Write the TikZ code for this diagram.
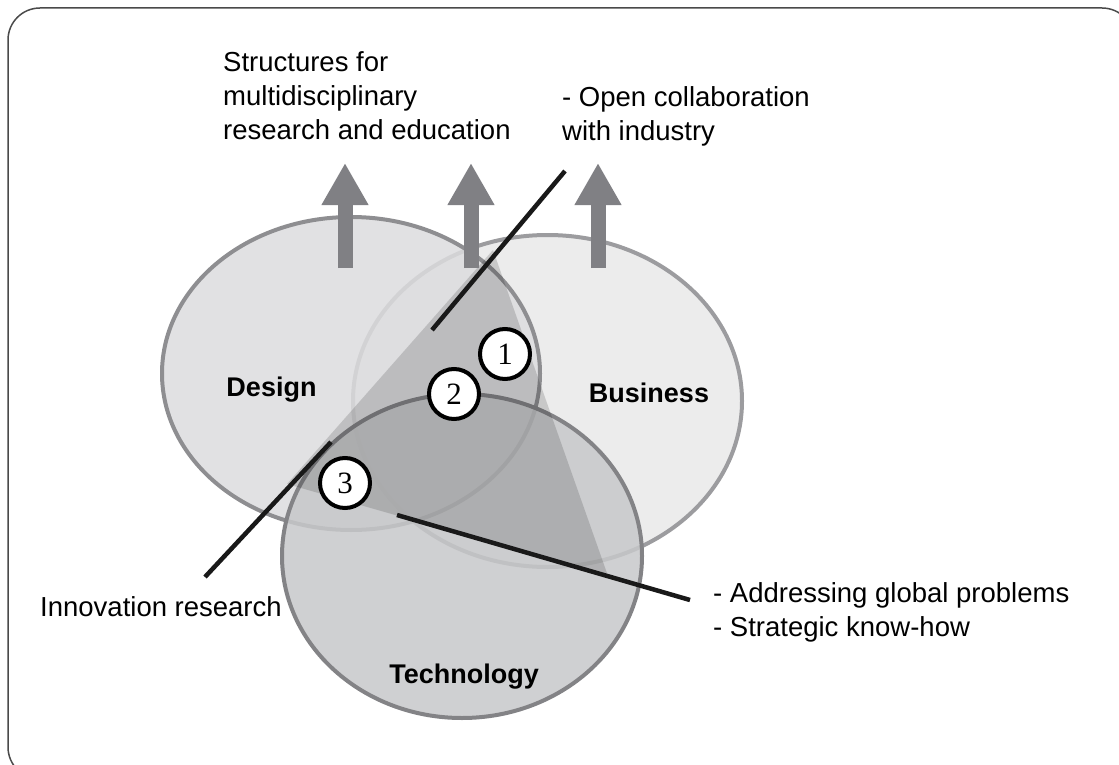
\documentclass[tikz,border=0pt]{standalone}
\usepackage{fontspec}
\setmainfont{Liberation Sans}
\newfontfamily\numfont{Liberation Serif}
\usetikzlibrary{shapes.geometric}
\usetikzlibrary{arrows.meta}

\definecolor{framegray}{HTML}{4A4A4A}
\definecolor{dsgfill}{HTML}{DCDCDE}
\definecolor{dsgline}{HTML}{8E8E91}
\definecolor{busfill}{HTML}{ECECEC}
\definecolor{busline}{HTML}{9C9C9F}
\definecolor{tecfill}{HTML}{C7C8CA}
\definecolor{tecline}{HTML}{838386}
\definecolor{arrowgray}{HTML}{808084}

\begin{document}
\begin{tikzpicture}[x=1pt, y=-1pt,
    set/.style={ellipse, inner sep=0pt, line width=4pt},
    num/.style={circle, draw=black, fill=white, line width=4pt, minimum size=50pt,
      inner sep=0pt, font=\numfont\fontsize{31}{31}\selectfont},
    txt/.style={inner sep=0pt, anchor=base west, align=left,
      font=\fontsize{27.5}{34}\selectfont},
    setname/.style={inner sep=0pt, anchor=base, font=\bfseries\fontsize{27}{30}\selectfont},
    up/.style={line width=15pt, draw=arrowgray, -{Triangle[length=42pt,width=44pt]}},
    pointer/.style={line width=4.5pt, draw=black!90}]
  \useasboundingbox (0,0) rectangle (1119,765);
  \draw[line width=1.5pt, draw=framegray, rounded corners=32pt] (8,8) rectangle (1134,779);

  % the three fields
  \node[set, draw=busline, fill=busfill, minimum width=389pt, minimum height=332pt] (business) at (547.5,401) {};
  \node[set, draw=dsgline, fill=dsgfill, fill opacity=0.85, minimum width=378pt, minimum height=313pt] (design) at (351,373.5) {};
  \node[set, draw=tecline, fill=tecfill, fill opacity=0.85, minimum width=360pt, minimum height=324pt] (technology) at (462,556) {};

  \node[setname] (designname) at (271.5,396) {Design};
  \node[setname] (businessname) at (649,402) {Business};
  \node[setname] (technologyname) at (464,683) {Technology};

  % shaded core
  \coordinate (apex) at (493,250);
  \coordinate (left) at (287,484);
  \coordinate (right) at (608,576);
  \fill[black, fill opacity=0.15] (apex) -- (left) -- (right) -- cycle;

  % arrows up
  \foreach \x [count=\i] in {345,471,598} {
    \coordinate (foot\i) at (\x,268);
    \coordinate (tip\i) at (\x,163);
    \draw[up] (foot\i) -- (tip\i);
  }

  % pointer lines
  \coordinate (collabtop) at (565,171);
  \coordinate (collabend) at (432,330);
  \coordinate (innovtop) at (331,442);
  \coordinate (innovend) at (205,577);
  \coordinate (globalstart) at (397,515);
  \coordinate (globalend) at (690,600);
  \draw[pointer] (collabtop) -- (collabend);
  \draw[pointer] (innovtop) -- (innovend);
  \draw[pointer] (globalstart) -- (globalend);

  \node[num] (n1) at (505,354) {1};
  \node[num] (n2) at (454,394) {2};
  \node[num] (n3) at (345,483) {3};

  % texts (base = last line)
  \node[txt] (structures) at (223,140) {Structures for\\multidisciplinary\\research and education};
  \node[txt] (collab) at (562,141) {- Open collaboration\\with industry};
  \node[txt] (global) at (713,636) {- Addressing global problems\\- Strategic know-how};
  \node[txt] (innovation) at (40,616) {Innovation research};
\end{tikzpicture}
\end{document}
